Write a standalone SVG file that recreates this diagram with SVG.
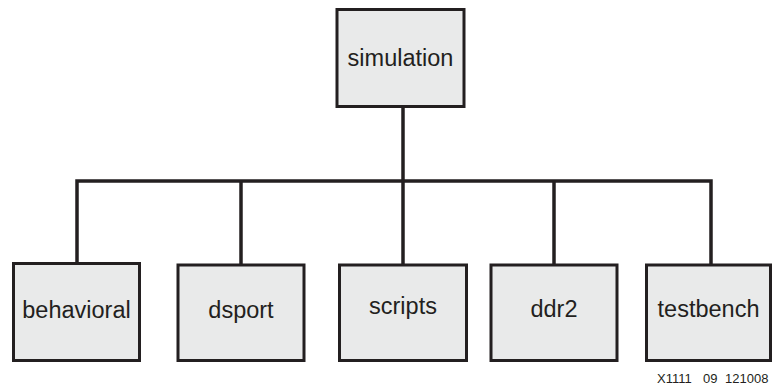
<svg xmlns="http://www.w3.org/2000/svg" width="772" height="386" viewBox="0 0 772 386">
  <style>
    .box { fill: #e9eaea; stroke: #231f20; stroke-width: 3; }
    .lbl { font-family: "Liberation Sans", Arial, sans-serif; font-size: 23.5px; fill: #231f20; text-anchor: middle; }
    .wire { fill: none; stroke: #231f20; stroke-width: 3.5; }
    .note { font-family: "Liberation Sans", Arial, sans-serif; font-size: 13px; fill: #231f20; }
  </style>
  <rect width="772" height="386" fill="#ffffff"/>

  <g id="connectors">
    <line class="wire" x1="403" y1="107" x2="403" y2="265"/>
    <polyline class="wire" points="77,263 77,181 711,181 711,265"/>
    <line class="wire" x1="241" y1="181" x2="241" y2="265"/>
    <line class="wire" x1="554" y1="181" x2="554" y2="265"/>
  </g>

  <g id="simulation">
    <rect class="box" x="337" y="9.5" width="127" height="97"/>
    <text class="lbl" x="400.5" y="66">simulation</text>
  </g>
  <g id="behavioral">
    <rect class="box" x="13.5" y="263.5" width="126" height="97"/>
    <text class="lbl" x="76.5" y="318">behavioral</text>
  </g>
  <g id="dsport">
    <rect class="box" x="178" y="265" width="126" height="95.5"/>
    <text class="lbl" x="241" y="318">dsport</text>
  </g>
  <g id="scripts">
    <rect class="box" x="339.5" y="265" width="127" height="95.5"/>
    <text class="lbl" x="403" y="314">scripts</text>
  </g>
  <g id="ddr2">
    <rect class="box" x="491" y="265" width="126" height="95.5"/>
    <text class="lbl" x="554" y="317">ddr2</text>
  </g>
  <g id="testbench">
    <rect class="box" x="646.5" y="265" width="124" height="95.5"/>
    <text class="lbl" x="708.5" y="317">testbench</text>
  </g>

  <text class="note" y="383"><tspan x="657">X1111 </tspan><tspan x="703">09 </tspan><tspan x="725">121008</tspan></text>
</svg>
